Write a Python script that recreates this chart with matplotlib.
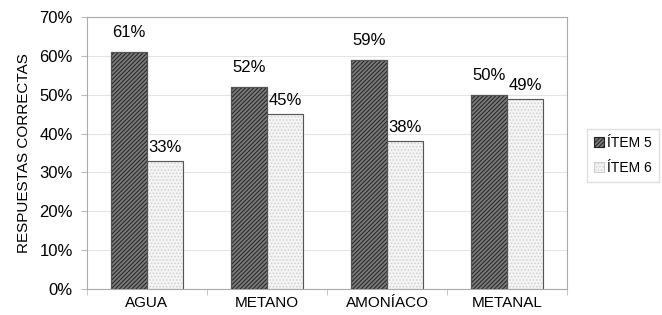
import numpy as np
import matplotlib
matplotlib.use('Agg')
import matplotlib.pyplot as plt

plt.rcParams['font.family'] = ['Liberation Sans', 'DejaVu Sans']
plt.rcParams['hatch.linewidth'] = 0.7

# Data
categories = ['AGUA', 'METANO', 'AMONÍACO', 'METANAL']
item5 = [61, 52, 59, 50]
item6 = [33, 45, 38, 49]

fig = plt.figure(figsize=(6.62, 3.15), dpi=100)
ax = fig.add_axes([0.131, 0.083, 0.726, 0.863])

x = np.arange(len(categories))
w = 0.3
b1 = ax.bar(x - w / 2, item5, w, facecolor='#7a7a7a', edgecolor='#222222',
            hatch='////////', linewidth=0.8, label='ÍTEM 5', zorder=3)
b2 = ax.bar(x + w / 2, item6, w, facecolor='#f4f4f4', edgecolor='#cfcfcf',
            hatch='.....', linewidth=0.8, label='ÍTEM 6', zorder=3)
# outline drawn separately so the hatch colour does not set the border
for b in list(b1) + list(b2):
    ax.add_patch(plt.Rectangle(b.get_xy(), b.get_width(), b.get_height(),
                               fill=False, edgecolor='#555555', linewidth=0.8, zorder=4))

for xi, v in zip(x - w / 2, item5):
    ax.text(xi, v + 3, f'{v}%', ha='center', va='bottom', fontsize=12)
for xi, v in zip(x + w / 2, item6):
    ax.text(xi, v + 1.5, f'{v}%', ha='center', va='bottom', fontsize=12)

ax.set_xlim(-0.5, 3.5)
ax.set_ylim(0, 70)
ax.set_yticks(range(0, 71, 10))
ax.set_yticklabels([f'{t}%' for t in range(0, 71, 10)], fontsize=12)
ax.set_xticks(x)
ax.set_xticklabels(categories, fontsize=11)
ax.set_xticks(np.arange(-0.5, 4, 1), minor=True)
ax.tick_params(axis='x', which='major', length=0, pad=5)
ax.tick_params(axis='x', which='minor', length=4, color='#bbbbbb')
ax.tick_params(axis='y', length=4, color='#bbbbbb', pad=6)
ax.yaxis.grid(True, color='#e4e4e4', linewidth=0.8, zorder=0)
for s in ax.spines.values():
    s.set_color('#aaaaaa')
ax.set_ylabel('RESPUESTAS CORRECTAS', fontsize=11, labelpad=6)

leg = ax.legend(loc='center left', bbox_to_anchor=(1.035, 0.49), fontsize=10,
                frameon=True, fancybox=False, edgecolor='#d8d8d8',
                handlelength=0.7, handleheight=0.7, handletextpad=0.25,
                borderpad=0.5, labelspacing=0.8, borderaxespad=0.2)

fig.savefig('out.png', dpi=100)
